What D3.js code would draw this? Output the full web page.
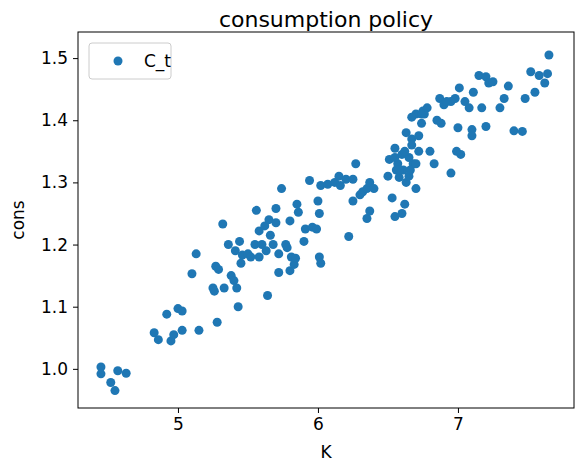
<!DOCTYPE html>
<html><head><meta charset="utf-8">
<script src="https://cdn.jsdelivr.net/npm/d3@7"></script>
<style>body{margin:0;background:#fff}text{font-family:"DejaVu Sans",sans-serif}</style>
</head><body><div id="chart"></div>
<script>
// capital K and consumption cons
const K = [4.45,4.45,4.52,4.55,4.57,4.63,4.83,4.86,4.92,4.95,4.97,5.0,5.03,5.03,5.1,5.13,5.15,5.25,5.26,5.27,5.29,5.28,5.32,5.33,5.36,5.38,5.4,5.41,5.42,5.43,5.44,5.45,5.46,5.5,5.52,5.55,5.56,5.58,5.58,5.6,5.62,5.64,5.63,5.65,5.66,5.68,5.7,5.7,5.72,5.72,5.74,5.77,5.78,5.8,5.8,5.81,5.83,5.84,5.85,5.86,5.9,5.91,5.94,5.96,5.99,6.01,6.02,6.02,6.01,6.0,6.07,6.12,6.15,6.16,6.2,6.22,6.25,6.25,6.27,6.3,6.32,6.35,6.35,6.37,6.37,6.4,6.5,6.51,6.53,6.55,6.55,6.56,6.57,6.58,6.6,6.6,6.61,6.62,6.63,6.63,6.65,6.65,6.67,6.67,6.68,6.7,6.7,6.72,6.72,6.74,6.75,6.78,6.8,6.83,6.85,6.87,6.88,6.9,6.95,6.98,6.99,7.02,7.0,7.01,7.05,7.08,7.1,7.1,7.11,7.15,7.17,7.2,7.2,7.22,7.25,7.3,7.33,7.36,7.4,7.46,7.48,7.52,7.55,7.58,7.62,7.64,7.65,6.55,6.62,6.66,6.7,6.58,6.76,6.95,6.67,6.74,6.92];
const cons = [1.003,0.992,0.978,0.965,0.997,0.993,1.058,1.047,1.088,1.045,1.055,1.097,1.093,1.062,1.153,1.185,1.062,1.13,1.125,1.165,1.16,1.075,1.233,1.13,1.2,1.15,1.142,1.19,1.13,1.1,1.205,1.17,1.183,1.185,1.18,1.2,1.255,1.222,1.18,1.2,1.23,1.118,1.19,1.24,1.215,1.2,1.258,1.235,1.155,1.185,1.29,1.2,1.195,1.238,1.158,1.18,1.168,1.178,1.265,1.252,1.205,1.225,1.303,1.228,1.225,1.18,1.17,1.295,1.25,1.27,1.297,1.3,1.31,1.295,1.305,1.213,1.305,1.27,1.33,1.28,1.285,1.29,1.242,1.254,1.3,1.29,1.31,1.337,1.275,1.245,1.355,1.32,1.33,1.308,1.345,1.25,1.32,1.265,1.3,1.38,1.31,1.34,1.37,1.36,1.33,1.29,1.41,1.375,1.35,1.395,1.415,1.42,1.35,1.33,1.4,1.435,1.395,1.425,1.315,1.435,1.35,1.345,1.388,1.452,1.43,1.42,1.385,1.375,1.445,1.472,1.42,1.39,1.47,1.46,1.462,1.42,1.435,1.455,1.383,1.382,1.435,1.478,1.445,1.472,1.46,1.475,1.505,1.34,1.35,1.32,1.33,1.32,1.41,1.43,1.405,1.41,1.43];
const xTicks = [5, 6, 7];
const yTicks = [1.0, 1.1, 1.2, 1.3, 1.4, 1.5];

const W = 584, H = 472;
const M = {left: 78, right: 10, top: 32, bottom: 64};

const svg = d3.select("#chart").append("svg").attr("width", W).attr("height", H);

const x = d3.scaleLinear().domain([4.286, 7.829]).range([M.left, W - M.right]);
const y = d3.scaleLinear().domain([0.937, 1.542]).range([H - M.bottom, M.top]);

// axes
const xAxis = svg.append("g").attr("transform", `translate(0,${H - M.bottom})`)
  .call(d3.axisBottom(x).tickValues(xTicks).tickFormat(d3.format("d")).tickSize(5).tickPadding(5));
const yAxis = svg.append("g").attr("transform", `translate(${M.left},0)`)
  .call(d3.axisLeft(y).tickValues(yTicks).tickFormat(d3.format(".1f")).tickSize(5).tickPadding(5));
[xAxis, yAxis].forEach(a => {
  a.attr("font-size", 17).attr("font-family", "DejaVu Sans");
  a.selectAll("text").attr("fill", "#000");
  a.select(".domain").remove();
});

svg.append("rect").attr("x", M.left).attr("y", M.top)
  .attr("width", W - M.left - M.right).attr("height", H - M.top - M.bottom)
  .attr("fill", "none").attr("stroke", "#000").attr("stroke-width", 1);

// points
svg.append("g").selectAll("circle").data(K).enter().append("circle")
  .attr("cx", d => x(d)).attr("cy", (d, i) => y(cons[i]))
  .attr("r", 4.5).attr("fill", "#1f77b4");

// labels
svg.append("text").attr("x", (M.left + W - M.right) / 2).attr("y", 27)
  .attr("text-anchor", "middle").attr("font-size", 22).text("consumption policy");
svg.append("text").attr("x", (M.left + W - M.right) / 2).attr("y", 458)
  .attr("text-anchor", "middle").attr("font-size", 17).text("K");
svg.append("text").attr("transform", `translate(24,${(M.top + H - M.bottom) / 2}) rotate(-90)`)
  .attr("text-anchor", "middle").attr("font-size", 17).text("cons");

// legend
const lg = svg.append("g").attr("transform", "translate(89,43)");
lg.append("rect").attr("width", 82).attr("height", 36).attr("rx", 3)
  .attr("fill", "#fff").attr("fill-opacity", 0.8).attr("stroke", "#ccc");
lg.append("circle").attr("cx", 29).attr("cy", 18).attr("r", 4.5).attr("fill", "#1f77b4");
lg.append("text").attr("x", 55).attr("y", 24).attr("font-size", 17).text("C_t");
</script></body></html>
